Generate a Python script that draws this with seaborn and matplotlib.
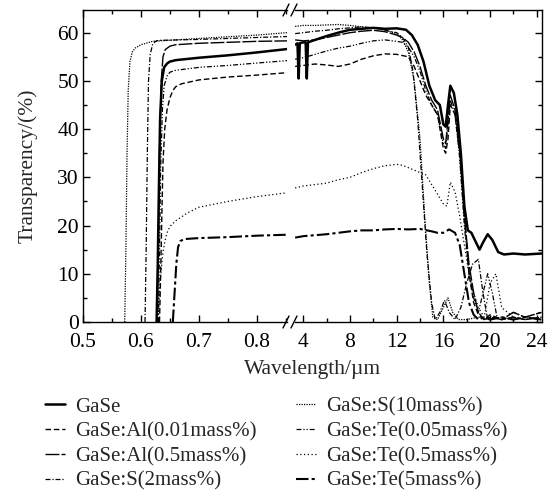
import matplotlib
matplotlib.use("Agg")
import matplotlib.pyplot as plt
from matplotlib.lines import Line2D
from matplotlib.ticker import MultipleLocator
import seaborn as sns

# ---------------- data ----------------
labels = ["GaSe", "GaSe:Al(0.01mass%)", "GaSe:Al(0.5mass%)", "GaSe:S(2mass%)",
          "GaSe:S(10mass%)", "GaSe:Te(0.05mass%)", "GaSe:Te(0.5mass%)", "GaSe:Te(5mass%)"]

gase_vis_x = [0.627, 0.629, 0.631, 0.633, 0.636, 0.640, 0.645, 0.650, 0.66, 0.70, 0.75, 0.80, 0.852]
gase_vis_y = [0, 12, 28, 42, 50, 52.8, 53.6, 54.0, 54.3, 54.8, 55.3, 55.9, 56.6]
gase_ir_x = [3.3, 3.5, 3.6, 3.7, 4.0, 4.2, 4.3, 4.4, 5, 6, 7, 8, 9, 10, 11, 12, 12.8, 13.3, 13.8, 14.3,
             14.8, 15.3, 15.7, 16.0, 16.2, 16.4, 16.6, 16.9, 17.2, 17.5, 17.8, 18.1, 18.4, 18.8, 19.1,
             19.4, 19.8, 20.2, 20.7, 21.2, 22, 23, 24.4]
gase_ir_y = [57.5, 57.8, 50.5, 57.8, 58, 58, 50.5, 58, 58.5, 59.3, 60.0, 60.6, 60.8, 61.0, 60.8, 60.9,
             60.6, 59.5, 57.5, 54, 49, 46, 45, 41, 40.5, 45, 49, 47.5, 43, 35, 24, 19, 18.5, 16.5, 15,
             16.5, 18.2, 17, 14.5, 14, 14.2, 14, 14.2]

al001_vis_x = [0.632, 0.634, 0.636, 0.638, 0.641, 0.645, 0.650, 0.655, 0.66, 0.67, 0.70, 0.75, 0.80, 0.852]
al001_vis_y = [0, 10, 22, 33, 40, 44, 46.5, 48, 48.8, 49.4, 50.2, 50.8, 51.2, 51.7]
al001_ir_x = [3.3, 4, 5, 6, 7, 8, 9, 10, 11, 12, 13, 13.5, 14, 14.5, 15, 15.5, 16.0, 16.2, 16.4, 16.6,
              17.0, 17.4, 17.8, 18.2, 18.6, 19.0, 19.5, 20, 21, 22, 23, 24.4]
al001_ir_y = [53, 53.2, 53.5, 53.3, 53.0, 53.5, 54.5, 55.2, 55.6, 55.5, 55, 53, 50, 47, 45, 43, 36, 35,
              38, 45, 43, 35, 22, 10, 4, 1.5, 0.5, 1.5, 0.5, 1, 0.5, 1]

al05_vis_x = [0.628, 0.630, 0.632, 0.635, 0.638, 0.642, 0.65, 0.66, 0.70, 0.75, 0.80, 0.852]
al05_vis_y = [0, 15, 35, 50, 55, 56.5, 57.2, 57.5, 57.8, 58.0, 58.2, 58.3]
al05_ir_x = [3.3, 4, 5, 6, 7, 8, 9, 10, 11, 12, 12.5, 13, 13.5, 14, 14.5, 15, 15.5, 16.0, 16.2, 16.6,
             17.0, 17.4, 17.8, 18.2, 18.6, 19.0, 19.5, 20, 21, 22, 23, 24.4]
al05_ir_y = [58.5, 58.3, 58.5, 59, 59.5, 60, 60.3, 60.5, 60.2, 59.5, 59, 58, 56, 53, 49, 46, 44, 38, 37,
             47, 44, 36, 22, 12, 6, 2, 0.5, 1, 0.5, 2, 1, 2]

s2_vis_x = [0.607, 0.609, 0.611, 0.613, 0.616, 0.620, 0.625, 0.63, 0.70, 0.80, 0.852]
s2_vis_y = [0, 15, 35, 50, 55.5, 57.5, 58.2, 58.4, 58.6, 59.0, 59.2]
s2_ir_x = [3.3, 4, 5, 6, 7, 8, 9, 10, 11, 12, 12.5, 13, 13.4, 13.8, 14.2, 14.6, 15.0, 15.3, 15.7, 16.1,
           16.5, 17.0, 17.5, 18.0, 18.5, 19.0, 19.4, 19.8, 20.5, 21, 22, 23, 24.4]
s2_ir_y = [59.8, 60, 60.3, 60.5, 60.8, 61, 61.2, 61, 60.5, 60, 59, 57, 52, 42, 28, 14, 4, 0.5, 2, 4.5,
           2, 0.5, 3, 8, 12, 13, 6, 0.5, 1, 0.5, 1, 0.5, 1]

s10_vis_x = [0.572, 0.574, 0.576, 0.578, 0.581, 0.585, 0.590, 0.60, 0.62, 0.70, 0.80, 0.852]
s10_vis_y = [0, 15, 35, 48, 54, 56, 56.8, 57.5, 58.2, 58.8, 59.5, 60]
s10_ir_x = [3.3, 4, 5, 6, 7, 8, 9, 10, 11, 12, 12.5, 13, 13.5, 14, 14.4, 14.8, 15.1, 15.5, 16.0, 16.4,
            16.8, 17.3, 18, 19, 20, 21, 22, 23, 24.4]
s10_ir_y = [61.3, 61.5, 61.5, 61.6, 61.7, 61.5, 61.2, 61.0, 60.5, 59.8, 58.5, 56, 50, 38, 22, 8, 1, 0.5,
            3, 5, 2, 0.5, 0.5, 1, 0.5, 1, 0.5, 1, 0.5]

te005_vis_x = [0.630, 0.632, 0.634, 0.637, 0.640, 0.645, 0.65, 0.66, 0.70, 0.75, 0.80, 0.852]
te005_vis_y = [0, 15, 32, 44, 49, 51, 51.8, 52.2, 52.8, 53.2, 53.7, 54.2]
te005_ir_x = [3.3, 4, 5, 6, 7, 8, 9, 10, 11, 12, 12.5, 13, 13.5, 14, 14.5, 15, 15.5, 16.0, 16.2, 16.6,
              17.0, 17.4, 17.8, 18.2, 18.6, 19.0, 19.4, 19.8, 20.2, 20.6, 21, 22, 23, 24.4]
te005_ir_y = [54.5, 54.8, 55.5, 56.2, 56.8, 57.2, 57.8, 58.3, 58.5, 58.2, 58, 57, 55, 52, 48, 45, 43,
              37, 36, 46, 43, 34, 20, 10, 5, 2, 6, 10, 6, 1, 0.5, 2, 1, 2]

te05_vis_x = [0.629, 0.632, 0.635, 0.638, 0.641, 0.645, 0.650, 0.66, 0.68, 0.70, 0.75, 0.80, 0.852]
te05_vis_y = [0, 6, 11, 14.5, 16.5, 18.5, 19.8, 21, 22.6, 23.8, 25.0, 26.0, 26.8]
te05_ir_x = [3.3, 4, 5, 6, 7, 8, 9, 10, 11, 12, 12.5, 13, 13.5, 14, 14.5, 15, 15.5, 16.0, 16.3, 16.6,
             17.0, 17.4, 17.8, 18.2, 18.6, 19.0, 19.5, 20, 20.5, 21, 22, 23, 24.4]
te05_ir_y = [27.8, 28.2, 28.5, 28.8, 29.5, 30.0, 31, 31.8, 32.4, 32.7, 32.5, 32, 31.5, 31, 30.5, 28.5,
             26.5, 24.5, 24, 29, 27, 22, 16, 10, 6, 3, 1, 8, 10, 3, 1, 0.5, 1]

te5_vis_x = [0.655, 0.658, 0.661, 0.664, 0.668, 0.675, 0.70, 0.75, 0.80, 0.852]
te5_vis_y = [0, 6, 12, 15.5, 16.8, 17.2, 17.4, 17.6, 17.9, 18.1]
te5_ir_x = [3.3, 4, 5, 6, 7, 8, 9, 10, 11, 12, 13, 14, 15, 15.5, 16.0, 16.5, 17.0, 17.4, 17.8, 18.2,
            18.6, 19.0, 19.5, 20, 21, 22, 23, 24.4]
te5_ir_y = [17.5, 17.8, 18, 18.2, 18.5, 18.8, 19.0, 19.0, 19.2, 19.3, 19.2, 19.3, 18.8, 18.5, 18.5,
            19.2, 18.5, 16, 10, 4, 1.5, 0.5, 1, 0.5, 1, 0.5, 1, 0.5]

vis_ticks = [0.5, 0.6, 0.7, 0.8]
ir_ticks = [4, 8, 12, 16, 20, 24]
y_ticks = [0, 10, 20, 30, 40, 50, 60]

series = [
    (gase_vis_x, gase_vis_y, gase_ir_x, gase_ir_y),
    (al001_vis_x, al001_vis_y, al001_ir_x, al001_ir_y),
    (al05_vis_x, al05_vis_y, al05_ir_x, al05_ir_y),
    (s2_vis_x, s2_vis_y, s2_ir_x, s2_ir_y),
    (s10_vis_x, s10_vis_y, s10_ir_x, s10_ir_y),
    (te005_vis_x, te005_vis_y, te005_ir_x, te005_ir_y),
    (te05_vis_x, te05_vis_y, te05_ir_x, te05_ir_y),
    (te5_vis_x, te5_vis_y, te5_ir_x, te5_ir_y),
]
styles = [
    ("-", 1.8),
    ((0, (4, 2)), 1.0),
    ((0, (10, 1.5)), 1.0),
    ((0, (4, 1.5, 1, 1.5)), 0.9),
    ((0, (1, 1)), 0.9),
    ((0, (4, 1.5, 1, 1.5, 1, 1.5)), 0.9),
    ((0, (1, 2)), 0.9),
    ((0, (6, 1.5, 1.5, 1.5)), 1.5),
]

# ---------------- style ----------------
FS = 15.5
LFS = 15
sns.set_theme(style="ticks")
plt.rcParams["font.family"] = ["Liberation Serif", "DejaVu Serif"]
plt.rcParams["font.size"] = FS
plt.rcParams["axes.linewidth"] = 1.0

W, H = 549, 490
fig = plt.figure(figsize=(W / 100, H / 100), dpi=100)
fig.patch.set_facecolor("white")

def fx(px):
    return px / W

def fy(py):
    return 1 - py / H

ax_bottom, ax_top = 322, 10
ax1 = fig.add_axes([fx(83), fy(ax_bottom), (287 - 83) / W, (ax_bottom - ax_top) / H])
ax2 = fig.add_axes([fx(295), fy(ax_bottom), (542 - 295) / W, (ax_bottom - ax_top) / H])

for lab, (vx, vy, ix, iy), (ls, lw) in zip(labels, series, styles):
    sns.lineplot(x=vx, y=vy, ax=ax1, color="black", linestyle=ls, linewidth=lw,
                 sort=False, estimator=None, label=lab)
    sns.lineplot(x=ix, y=iy, ax=ax2, color="black", linestyle=ls, linewidth=lw,
                 sort=False, estimator=None)

handles, labs = ax1.get_legend_handles_labels()
if ax1.get_legend() is not None:
    ax1.get_legend().remove()
if ax2.get_legend() is not None:
    ax2.get_legend().remove()

ax1.set_xlim(0.5, 0.852)
ax2.set_xlim(4 - (303.3 - 295) / 11.67, 4 + (542 - 303.3) / 11.67)
for ax in (ax1, ax2):
    ax.set_ylim(0, 64.7)
    ax.set_xlabel("")
    ax.set_ylabel("")
    for s in ax.spines.values():
        s.set_color("black")
        s.set_linewidth(1.0)

ax1.set_xticks(vis_ticks)
ax1.set_xticklabels([f"{t:.1f}" for t in vis_ticks])
ax1.xaxis.set_minor_locator(MultipleLocator(0.05))
ax1.set_yticks(y_ticks)
ax1.yaxis.set_minor_locator(MultipleLocator(5))
ax1.spines["right"].set_visible(False)
ax1.tick_params(which="both", direction="in", top=True, right=False, left=True, bottom=True,
                colors="black", labelsize=FS)
ax1.tick_params(axis="x", pad=8)
ax1.tick_params(axis="y", pad=3)
ax1.tick_params(which="major", length=5, width=1)
ax1.tick_params(which="minor", length=3, width=1)

ax2.set_xticks(ir_ticks)
ax2.set_xticklabels([str(t) for t in ir_ticks])
ax2.xaxis.set_minor_locator(MultipleLocator(2))
ax2.set_yticks(y_ticks)
ax2.yaxis.set_minor_locator(MultipleLocator(5))
ax2.spines["left"].set_visible(False)
ax2.tick_params(which="both", direction="in", top=True, right=True, left=False, bottom=True,
                labelleft=False, colors="black", labelsize=FS)
ax2.tick_params(axis="x", pad=8)
ax2.tick_params(which="major", length=5, width=1)
ax2.tick_params(which="minor", length=3, width=1)

# break marks
for py in (ax_bottom, ax_top):
    for px in (286, 294):
        fig.add_artist(Line2D([fx(px - 3), fx(px + 3)], [fy(py + 6), fy(py - 6)],
                              color="black", linewidth=1.0, transform=fig.transFigure))

fig.text(fx(313), fy(369), "Wavelength/\u00b5m", ha="center", va="center", fontsize=FS)
fig.text(fx(28), fy(166), "Transparency/(%)", ha="center", va="center", rotation=90, fontsize=FS)

fig.legend(handles, labs, ncol=2, loc="upper left", bbox_to_anchor=(fx(45), fy(397)),
           frameon=False, fontsize=LFS, handlelength=0.95, handletextpad=0.5,
           columnspacing=1.9, labelspacing=0.25, borderaxespad=0, borderpad=0)

fig.savefig("out.png", dpi=100, facecolor="white")
